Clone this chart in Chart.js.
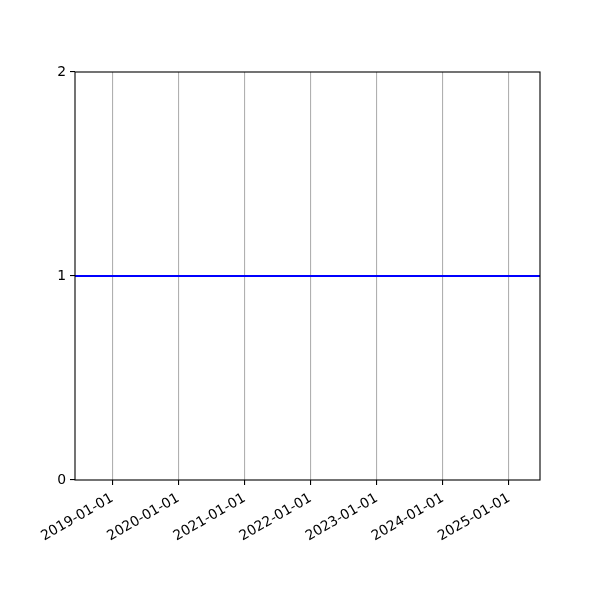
<!DOCTYPE html>
<html>
<head>
<meta charset="utf-8">
<style>
html,body{margin:0;padding:0;background:#fff;}
#wrap{width:600px;height:600px;}
</style>
<script src="https://cdn.jsdelivr.net/npm/chart.js@4.4.1/dist/chart.umd.min.js"></script>
</head>
<body>
<div id="wrap"><canvas id="c" width="600" height="600"></canvas></div>
<script>
// Data
const dates = ['2018-06-09', '2025-06-21'];
const values = [1, 1];
const xTickDates = ['2019-01-01','2020-01-01','2021-01-01','2022-01-01','2023-01-01','2024-01-01','2025-01-01'];
const yTicks = [0, 1, 2];

const toMs = s => Date.parse(s + 'T00:00:00Z');
const fmt = ms => new Date(ms).toISOString().slice(0, 10);

const points = dates.map((d, i) => ({x: toMs(d), y: values[i]}));

const framePlugin = {
  id: 'frame',
  afterDraw(chart) {
    const {ctx, chartArea: a} = chart;
    ctx.save();
    ctx.strokeStyle = '#000';
    ctx.lineWidth = 1.1;
    ctx.strokeRect(a.left, a.top, a.right - a.left, a.bottom - a.top);
    ctx.restore();
  }
};

new Chart(document.getElementById('c'), {
  type: 'line',
  data: {
    datasets: [{
      data: points,
      borderColor: '#0000ff',
      borderWidth: 2,
      pointRadius: 0,
      fill: false,
      tension: 0
    }]
  },
  options: {
    responsive: false,
    animation: false,
    devicePixelRatio: 1,
    layout: {padding: {top: 72, right: 60, left: 0, bottom: 0}},
    plugins: {legend: {display: false}, tooltip: {enabled: false}},
    scales: {
      x: {
        type: 'linear',
        min: toMs(dates[0]),
        max: toMs(dates[dates.length - 1]),
        afterBuildTicks(scale) {
          scale.ticks = xTickDates.map(d => ({value: toMs(d)}));
        },
        afterFit(scale) { scale.height = 120; },
        ticks: {
          autoSkip: false,
          minRotation: 30,
          maxRotation: 30,
          color: '#000',
          padding: 5,
          font: {family: 'DejaVu Sans', size: 13.9},
          callback: v => fmt(v)
        },
        grid: {
          color: '#b0b0b0',
          lineWidth: 1.1,
          tickColor: '#000',
          tickLength: 5,
          drawTicks: true
        },
        border: {display: false}
      },
      y: {
        type: 'linear',
        min: yTicks[0],
        max: yTicks[yTicks.length - 1],
        afterBuildTicks(scale) {
          scale.ticks = yTicks.map(v => ({value: v}));
        },
        afterFit(scale) { scale.width = 75; },
        ticks: {
          color: '#000',
          padding: 4,
          font: {family: 'DejaVu Sans', size: 13.9},
          callback: v => String(v)
        },
        grid: {
          drawOnChartArea: false,
          tickColor: '#000',
          tickLength: 5,
          lineWidth: 1.1
        },
        border: {display: false}
      }
    }
  },
  plugins: [framePlugin]
});
</script>
</body>
</html>
